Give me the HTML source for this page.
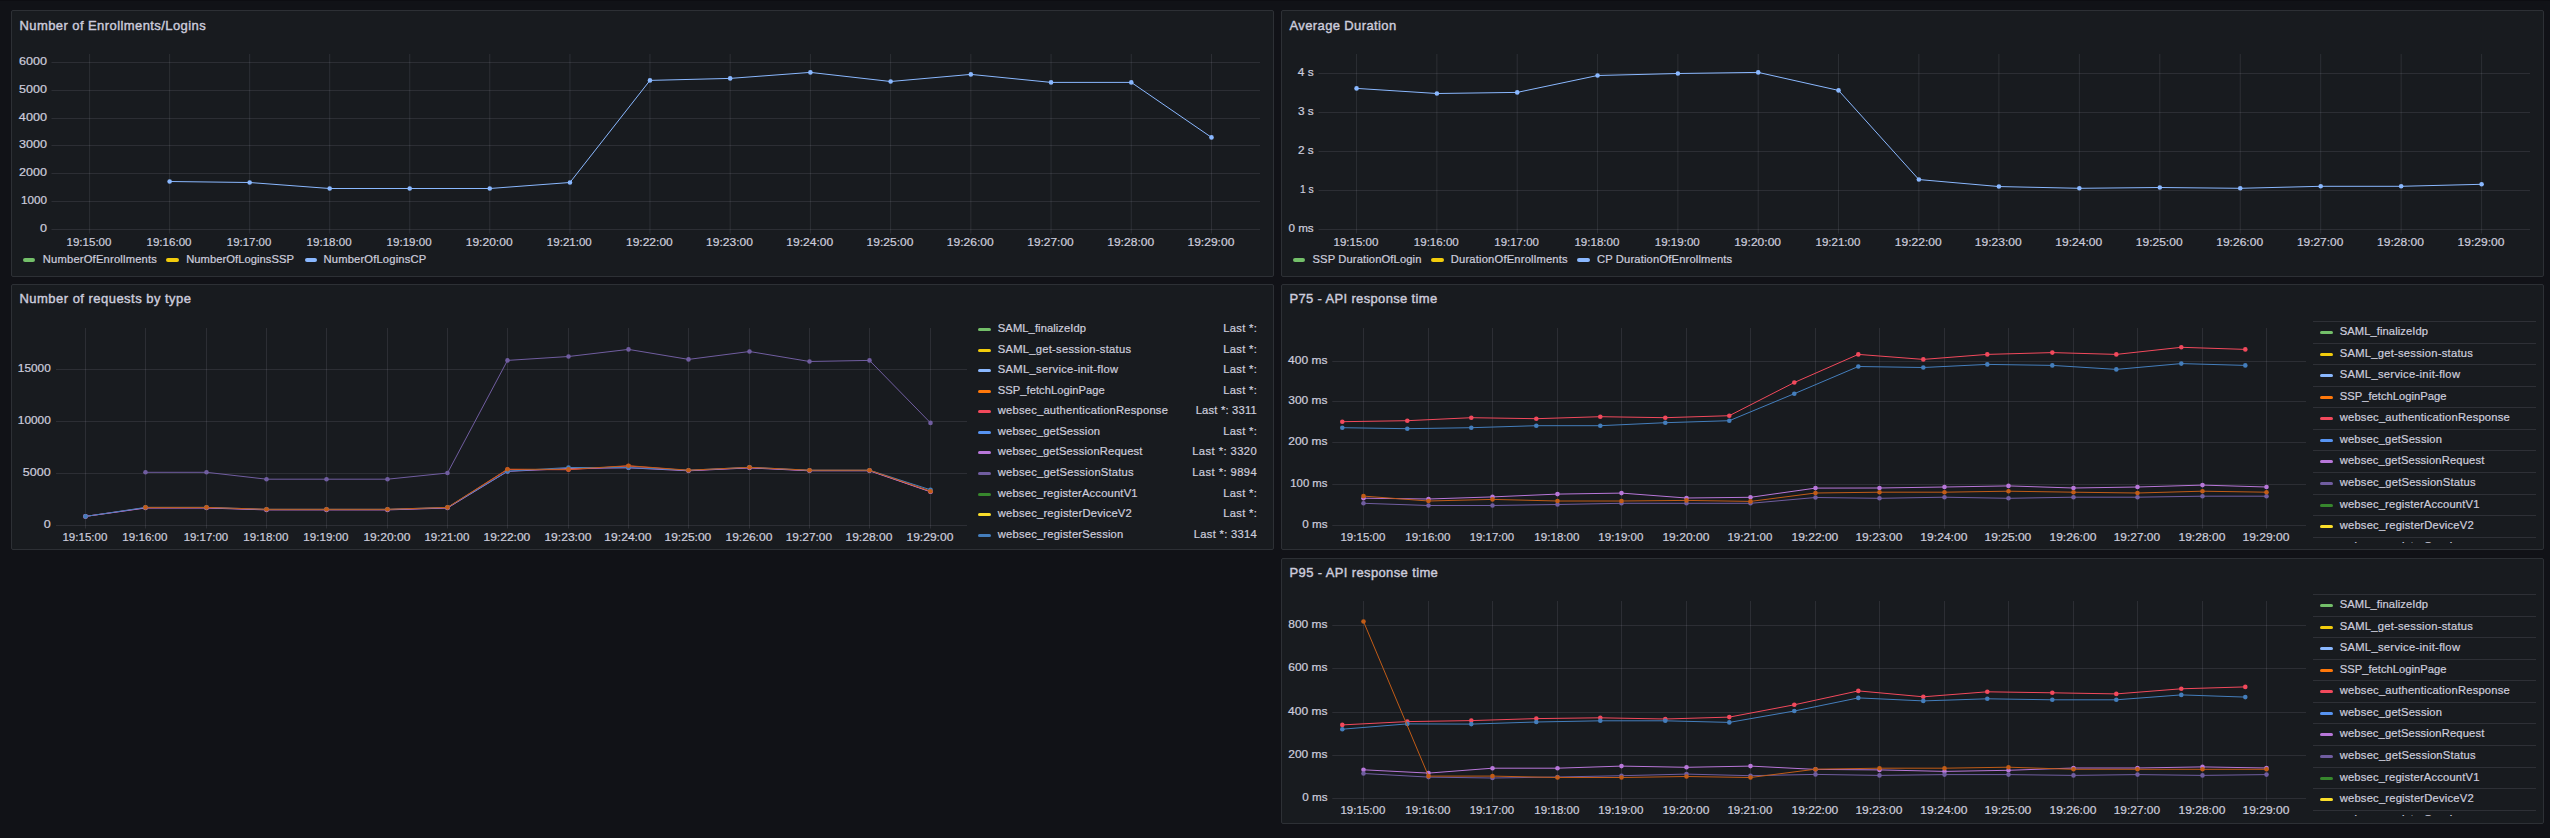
<!DOCTYPE html>
<html lang="en">
<head>
<meta charset="utf-8">
<title>Dashboard</title>
<style>
html,body{margin:0;padding:0;background:#111217;}
body{width:2550px;height:838px;position:relative;overflow:hidden;font-family:"Liberation Sans", sans-serif;color:#ccccdc;}
.panel{position:absolute;box-sizing:border-box;background:#181b1f;border:1px solid #2d3035;border-radius:2px;}
h2{position:absolute;margin:0;font-size:13.0px;font-weight:normal;line-height:16px;white-space:nowrap;color:#ccccdc;-webkit-text-stroke:0.4px #ccccdc;}
svg{position:absolute;left:0;top:0;font-family:"Liberation Sans", sans-serif;}
.sw{position:absolute;width:12.6px;height:3.8px;border-radius:2px;}
.lt{position:absolute;font-size:11.2px;line-height:14px;white-space:pre;color:#ccccdc;-webkit-text-stroke:0.22px #ccccdc;}
.tl{position:absolute;overflow:hidden;}
.row{position:absolute;left:0;width:100%;height:21.63px;box-sizing:border-box;border-top:1px solid rgba(204,204,220,0.12);}
</style>
</head>
<body>
<div style="position:absolute;left:0;top:0;width:2550px;height:1px;background:#0d0d12"></div>
<div class="panel" style="left:11px;top:10px;width:1263px;height:267px"></div>
<div class="panel" style="left:1281px;top:10px;width:1263px;height:267px"></div>
<div class="panel" style="left:11px;top:284px;width:1263px;height:266px"></div>
<div class="panel" style="left:1281px;top:284px;width:1263px;height:266px"></div>
<div class="panel" style="left:1281px;top:558px;width:1263px;height:266px"></div>
<svg width="2550" height="838" viewBox="0 0 2550 838">
<!-- panel 1 -->
<g stroke="rgba(204,204,220,0.115)" stroke-width="1">
<line x1="89.6" y1="54" x2="89.6" y2="233.5"/>
<line x1="169.63" y1="54" x2="169.63" y2="233.5"/>
<line x1="249.66" y1="54" x2="249.66" y2="233.5"/>
<line x1="329.69" y1="54" x2="329.69" y2="233.5"/>
<line x1="409.72" y1="54" x2="409.72" y2="233.5"/>
<line x1="489.76" y1="54" x2="489.76" y2="233.5"/>
<line x1="569.95" y1="54" x2="569.95" y2="233.5"/>
<line x1="649.96" y1="54" x2="649.96" y2="233.5"/>
<line x1="730.18" y1="54" x2="730.18" y2="233.5"/>
<line x1="810.4" y1="54" x2="810.4" y2="233.5"/>
<line x1="890.62" y1="54" x2="890.62" y2="233.5"/>
<line x1="970.84" y1="54" x2="970.84" y2="233.5"/>
<line x1="1051.06" y1="54" x2="1051.06" y2="233.5"/>
<line x1="1131.28" y1="54" x2="1131.28" y2="233.5"/>
<line x1="1211.5" y1="54" x2="1211.5" y2="233.5"/>
<line x1="51.5" y1="229.5" x2="1260" y2="229.5"/>
<line x1="51.5" y1="201.5" x2="1260" y2="201.5"/>
<line x1="51.5" y1="173.5" x2="1260" y2="173.5"/>
<line x1="51.5" y1="145.5" x2="1260" y2="145.5"/>
<line x1="51.5" y1="118.5" x2="1260" y2="118.5"/>
<line x1="51.5" y1="90.5" x2="1260" y2="90.5"/>
<line x1="51.5" y1="62.5" x2="1260" y2="62.5"/>
</g>
<g fill="#ccccdc" stroke="#ccccdc" stroke-width="0.22" font-size="11.2" text-anchor="end">
<text x="47" y="232" textLength="7" lengthAdjust="spacingAndGlyphs">0</text>
<text x="47" y="204" textLength="26" lengthAdjust="spacingAndGlyphs">1000</text>
<text x="47" y="176" textLength="27.91" lengthAdjust="spacingAndGlyphs">2000</text>
<text x="47" y="148" textLength="27.99" lengthAdjust="spacingAndGlyphs">3000</text>
<text x="47" y="121" textLength="28.12" lengthAdjust="spacingAndGlyphs">4000</text>
<text x="47" y="93" textLength="27.91" lengthAdjust="spacingAndGlyphs">5000</text>
<text x="47" y="65" textLength="28.02" lengthAdjust="spacingAndGlyphs">6000</text>
</g>
<g fill="#ccccdc" stroke="#ccccdc" stroke-width="0.22" font-size="11.2" text-anchor="middle">
<text x="89" y="246" textLength="44.93" lengthAdjust="spacingAndGlyphs">19:15:00</text>
<text x="169.03" y="246" textLength="45.04" lengthAdjust="spacingAndGlyphs">19:16:00</text>
<text x="249.06" y="246" textLength="44.5" lengthAdjust="spacingAndGlyphs">19:17:00</text>
<text x="329.09" y="246" textLength="45.04" lengthAdjust="spacingAndGlyphs">19:18:00</text>
<text x="409.12" y="246" textLength="45.04" lengthAdjust="spacingAndGlyphs">19:19:00</text>
<text x="489.16" y="246" textLength="46.93" lengthAdjust="spacingAndGlyphs">19:20:00</text>
<text x="569.35" y="246" textLength="44.93" lengthAdjust="spacingAndGlyphs">19:21:00</text>
<text x="649.36" y="246" textLength="46.84" lengthAdjust="spacingAndGlyphs">19:22:00</text>
<text x="729.58" y="246" textLength="46.93" lengthAdjust="spacingAndGlyphs">19:23:00</text>
<text x="809.8" y="246" textLength="47.06" lengthAdjust="spacingAndGlyphs">19:24:00</text>
<text x="890.02" y="246" textLength="46.84" lengthAdjust="spacingAndGlyphs">19:25:00</text>
<text x="970.24" y="246" textLength="46.95" lengthAdjust="spacingAndGlyphs">19:26:00</text>
<text x="1050.46" y="246" textLength="46.41" lengthAdjust="spacingAndGlyphs">19:27:00</text>
<text x="1130.68" y="246" textLength="46.95" lengthAdjust="spacingAndGlyphs">19:28:00</text>
<text x="1210.9" y="246" textLength="46.95" lengthAdjust="spacingAndGlyphs">19:29:00</text>
</g>
<path d="M169.63 181.5 L249.66 182.5 L329.69 188.5 L409.72 188.5 L489.76 188.5 L569.95 182.5 L649.96 80.4 L730.18 78.4 L810.4 72.4 L890.62 81.5 L970.84 74.4 L1051.06 82.4 L1131.28 82.4 L1211.5 137.4" fill="none" stroke="#8AB8FF" stroke-width="1.0" stroke-linejoin="round"/>
<g fill="#8AB8FF"><circle cx="169.63" cy="181.5" r="2.3"/><circle cx="249.66" cy="182.5" r="2.3"/><circle cx="329.69" cy="188.5" r="2.3"/><circle cx="409.72" cy="188.5" r="2.3"/><circle cx="489.76" cy="188.5" r="2.3"/><circle cx="569.95" cy="182.5" r="2.3"/><circle cx="649.96" cy="80.4" r="2.3"/><circle cx="730.18" cy="78.4" r="2.3"/><circle cx="810.4" cy="72.4" r="2.3"/><circle cx="890.62" cy="81.5" r="2.3"/><circle cx="970.84" cy="74.4" r="2.3"/><circle cx="1051.06" cy="82.4" r="2.3"/><circle cx="1131.28" cy="82.4" r="2.3"/><circle cx="1211.5" cy="137.4" r="2.3"/></g>
<!-- panel 2 -->
<g stroke="rgba(204,204,220,0.115)" stroke-width="1">
<line x1="1356.56" y1="54" x2="1356.56" y2="233.5"/>
<line x1="1436.89" y1="54" x2="1436.89" y2="233.5"/>
<line x1="1517.22" y1="54" x2="1517.22" y2="233.5"/>
<line x1="1597.55" y1="54" x2="1597.55" y2="233.5"/>
<line x1="1677.88" y1="54" x2="1677.88" y2="233.5"/>
<line x1="1758.21" y1="54" x2="1758.21" y2="233.5"/>
<line x1="1838.54" y1="54" x2="1838.54" y2="233.5"/>
<line x1="1918.87" y1="54" x2="1918.87" y2="233.5"/>
<line x1="1998.9" y1="54" x2="1998.9" y2="233.5"/>
<line x1="2079.35" y1="54" x2="2079.35" y2="233.5"/>
<line x1="2159.8" y1="54" x2="2159.8" y2="233.5"/>
<line x1="2240.25" y1="54" x2="2240.25" y2="233.5"/>
<line x1="2320.7" y1="54" x2="2320.7" y2="233.5"/>
<line x1="2401.15" y1="54" x2="2401.15" y2="233.5"/>
<line x1="2481.6" y1="54" x2="2481.6" y2="233.5"/>
<line x1="1318.5" y1="229.5" x2="2530" y2="229.5"/>
<line x1="1318.5" y1="190.5" x2="2530" y2="190.5"/>
<line x1="1318.5" y1="151.5" x2="2530" y2="151.5"/>
<line x1="1318.5" y1="112.5" x2="2530" y2="112.5"/>
<line x1="1318.5" y1="73.5" x2="2530" y2="73.5"/>
</g>
<g fill="#ccccdc" stroke="#ccccdc" stroke-width="0.22" font-size="11.2" text-anchor="end">
<text x="1313.7" y="232" textLength="25.24" lengthAdjust="spacingAndGlyphs">0 ms</text>
<text x="1313.7" y="193" textLength="13.78" lengthAdjust="spacingAndGlyphs">1 s</text>
<text x="1313.7" y="154" textLength="15.69" lengthAdjust="spacingAndGlyphs">2 s</text>
<text x="1313.7" y="115" textLength="15.78" lengthAdjust="spacingAndGlyphs">3 s</text>
<text x="1313.7" y="76" textLength="15.91" lengthAdjust="spacingAndGlyphs">4 s</text>
</g>
<g fill="#ccccdc" stroke="#ccccdc" stroke-width="0.22" font-size="11.2" text-anchor="middle">
<text x="1355.96" y="246" textLength="44.93" lengthAdjust="spacingAndGlyphs">19:15:00</text>
<text x="1436.29" y="246" textLength="45.04" lengthAdjust="spacingAndGlyphs">19:16:00</text>
<text x="1516.62" y="246" textLength="44.5" lengthAdjust="spacingAndGlyphs">19:17:00</text>
<text x="1596.95" y="246" textLength="45.04" lengthAdjust="spacingAndGlyphs">19:18:00</text>
<text x="1677.28" y="246" textLength="45.04" lengthAdjust="spacingAndGlyphs">19:19:00</text>
<text x="1757.61" y="246" textLength="46.93" lengthAdjust="spacingAndGlyphs">19:20:00</text>
<text x="1837.94" y="246" textLength="44.93" lengthAdjust="spacingAndGlyphs">19:21:00</text>
<text x="1918.27" y="246" textLength="46.84" lengthAdjust="spacingAndGlyphs">19:22:00</text>
<text x="1998.3" y="246" textLength="46.93" lengthAdjust="spacingAndGlyphs">19:23:00</text>
<text x="2078.75" y="246" textLength="47.06" lengthAdjust="spacingAndGlyphs">19:24:00</text>
<text x="2159.2" y="246" textLength="46.84" lengthAdjust="spacingAndGlyphs">19:25:00</text>
<text x="2239.65" y="246" textLength="46.95" lengthAdjust="spacingAndGlyphs">19:26:00</text>
<text x="2320.1" y="246" textLength="46.41" lengthAdjust="spacingAndGlyphs">19:27:00</text>
<text x="2400.55" y="246" textLength="46.95" lengthAdjust="spacingAndGlyphs">19:28:00</text>
<text x="2481" y="246" textLength="46.95" lengthAdjust="spacingAndGlyphs">19:29:00</text>
</g>
<path d="M1356.56 88.4 L1436.89 93.5 L1517.22 92.4 L1597.55 75.5 L1677.88 73.5 L1758.21 72.4 L1838.54 90.4 L1918.87 179.55 L1998.9 186.55 L2079.35 188.3 L2159.8 187.5 L2240.25 188.3 L2320.7 186.3 L2401.15 186.3 L2481.6 184.3" fill="none" stroke="#8AB8FF" stroke-width="1.0" stroke-linejoin="round"/>
<g fill="#8AB8FF"><circle cx="1356.56" cy="88.4" r="2.3"/><circle cx="1436.89" cy="93.5" r="2.3"/><circle cx="1517.22" cy="92.4" r="2.3"/><circle cx="1597.55" cy="75.5" r="2.3"/><circle cx="1677.88" cy="73.5" r="2.3"/><circle cx="1758.21" cy="72.4" r="2.3"/><circle cx="1838.54" cy="90.4" r="2.3"/><circle cx="1918.87" cy="179.55" r="2.3"/><circle cx="1998.9" cy="186.55" r="2.3"/><circle cx="2079.35" cy="188.3" r="2.3"/><circle cx="2159.8" cy="187.5" r="2.3"/><circle cx="2240.25" cy="188.3" r="2.3"/><circle cx="2320.7" cy="186.3" r="2.3"/><circle cx="2401.15" cy="186.3" r="2.3"/><circle cx="2481.6" cy="184.3" r="2.3"/></g>
<!-- panel 3 -->
<g stroke="rgba(204,204,220,0.115)" stroke-width="1">
<line x1="85.5" y1="328" x2="85.5" y2="528.5"/>
<line x1="145.5" y1="328" x2="145.5" y2="528.5"/>
<line x1="206.5" y1="328" x2="206.5" y2="528.5"/>
<line x1="266.5" y1="328" x2="266.5" y2="528.5"/>
<line x1="326.5" y1="328" x2="326.5" y2="528.5"/>
<line x1="387.5" y1="328" x2="387.5" y2="528.5"/>
<line x1="447.5" y1="328" x2="447.5" y2="528.5"/>
<line x1="507.5" y1="328" x2="507.5" y2="528.5"/>
<line x1="568.5" y1="328" x2="568.5" y2="528.5"/>
<line x1="628.5" y1="328" x2="628.5" y2="528.5"/>
<line x1="688.5" y1="328" x2="688.5" y2="528.5"/>
<line x1="749.5" y1="328" x2="749.5" y2="528.5"/>
<line x1="809.5" y1="328" x2="809.5" y2="528.5"/>
<line x1="869.5" y1="328" x2="869.5" y2="528.5"/>
<line x1="930.5" y1="328" x2="930.5" y2="528.5"/>
<line x1="56" y1="525.5" x2="967" y2="525.5"/>
<line x1="56" y1="473.5" x2="967" y2="473.5"/>
<line x1="56" y1="421.5" x2="967" y2="421.5"/>
<line x1="56" y1="369.5" x2="967" y2="369.5"/>
</g>
<g fill="#ccccdc" stroke="#ccccdc" stroke-width="0.22" font-size="11.2" text-anchor="end">
<text x="50.8" y="528" textLength="7" lengthAdjust="spacingAndGlyphs">0</text>
<text x="50.8" y="476" textLength="27.91" lengthAdjust="spacingAndGlyphs">5000</text>
<text x="50.8" y="424" textLength="32.99" lengthAdjust="spacingAndGlyphs">10000</text>
<text x="50.8" y="372" textLength="32.91" lengthAdjust="spacingAndGlyphs">15000</text>
</g>
<g fill="#ccccdc" stroke="#ccccdc" stroke-width="0.22" font-size="11.2" text-anchor="middle">
<text x="84.9" y="541" textLength="44.93" lengthAdjust="spacingAndGlyphs">19:15:00</text>
<text x="144.9" y="541" textLength="45.04" lengthAdjust="spacingAndGlyphs">19:16:00</text>
<text x="205.9" y="541" textLength="44.5" lengthAdjust="spacingAndGlyphs">19:17:00</text>
<text x="265.9" y="541" textLength="45.04" lengthAdjust="spacingAndGlyphs">19:18:00</text>
<text x="325.9" y="541" textLength="45.04" lengthAdjust="spacingAndGlyphs">19:19:00</text>
<text x="386.9" y="541" textLength="46.93" lengthAdjust="spacingAndGlyphs">19:20:00</text>
<text x="446.9" y="541" textLength="44.93" lengthAdjust="spacingAndGlyphs">19:21:00</text>
<text x="506.9" y="541" textLength="46.84" lengthAdjust="spacingAndGlyphs">19:22:00</text>
<text x="567.9" y="541" textLength="46.93" lengthAdjust="spacingAndGlyphs">19:23:00</text>
<text x="627.9" y="541" textLength="47.06" lengthAdjust="spacingAndGlyphs">19:24:00</text>
<text x="687.9" y="541" textLength="46.84" lengthAdjust="spacingAndGlyphs">19:25:00</text>
<text x="748.9" y="541" textLength="46.95" lengthAdjust="spacingAndGlyphs">19:26:00</text>
<text x="808.9" y="541" textLength="46.41" lengthAdjust="spacingAndGlyphs">19:27:00</text>
<text x="868.9" y="541" textLength="46.95" lengthAdjust="spacingAndGlyphs">19:28:00</text>
<text x="929.9" y="541" textLength="46.95" lengthAdjust="spacingAndGlyphs">19:29:00</text>
</g>
<path d="M85.5 516.4 L145.5 507.7 L206.5 507.7 L266.5 509.6 L326.5 509.6 L387.5 509.6 L447.5 507.7 L507.5 469.5 L568.5 469.7 L628.5 466 L688.5 470.5 L749.5 467.6 L809.5 470.5 L869.5 470.5 L930.5 491.5" fill="none" stroke="#F2495C" stroke-width="1.0" stroke-linejoin="round"/>
<g fill="#F2495C"><circle cx="85.5" cy="516.4" r="2.3"/><circle cx="145.5" cy="507.7" r="2.3"/><circle cx="206.5" cy="507.7" r="2.3"/><circle cx="266.5" cy="509.6" r="2.3"/><circle cx="326.5" cy="509.6" r="2.3"/><circle cx="387.5" cy="509.6" r="2.3"/><circle cx="447.5" cy="507.7" r="2.3"/><circle cx="507.5" cy="469.5" r="2.3"/><circle cx="568.5" cy="469.7" r="2.3"/><circle cx="628.5" cy="466" r="2.3"/><circle cx="688.5" cy="470.5" r="2.3"/><circle cx="749.5" cy="467.6" r="2.3"/><circle cx="809.5" cy="470.5" r="2.3"/><circle cx="869.5" cy="470.5" r="2.3"/><circle cx="930.5" cy="491.5" r="2.3"/></g>
<path d="M85.5 516.4 L145.5 508 L206.5 508 L266.5 509.9 L326.5 509.9 L387.5 509.9 L447.5 508 L507.5 471.4 L568.5 468.5 L628.5 467.8 L688.5 470.8 L749.5 467.9 L809.5 470.8 L869.5 470.8 L930.5 491.8" fill="none" stroke="#B877D9" stroke-width="1.0" stroke-linejoin="round"/>
<g fill="#B877D9"><circle cx="85.5" cy="516.4" r="2.3"/><circle cx="145.5" cy="508" r="2.3"/><circle cx="206.5" cy="508" r="2.3"/><circle cx="266.5" cy="509.9" r="2.3"/><circle cx="326.5" cy="509.9" r="2.3"/><circle cx="387.5" cy="509.9" r="2.3"/><circle cx="447.5" cy="508" r="2.3"/><circle cx="507.5" cy="471.4" r="2.3"/><circle cx="568.5" cy="468.5" r="2.3"/><circle cx="628.5" cy="467.8" r="2.3"/><circle cx="688.5" cy="470.8" r="2.3"/><circle cx="749.5" cy="467.9" r="2.3"/><circle cx="809.5" cy="470.8" r="2.3"/><circle cx="869.5" cy="470.8" r="2.3"/><circle cx="930.5" cy="491.8" r="2.3"/></g>
<path d="M145.5 472.3 L206.5 472.3 L266.5 479.2 L326.5 479.2 L387.5 479.2 L447.5 473 L507.5 360.4 L568.5 356.5 L628.5 349.4 L688.5 359.4 L749.5 351.5 L809.5 361.5 L869.5 360.4 L930.5 422.9" fill="none" stroke="#705DA0" stroke-width="1.0" stroke-linejoin="round"/>
<g fill="#705DA0"><circle cx="145.5" cy="472.3" r="2.3"/><circle cx="206.5" cy="472.3" r="2.3"/><circle cx="266.5" cy="479.2" r="2.3"/><circle cx="326.5" cy="479.2" r="2.3"/><circle cx="387.5" cy="479.2" r="2.3"/><circle cx="447.5" cy="473" r="2.3"/><circle cx="507.5" cy="360.4" r="2.3"/><circle cx="568.5" cy="356.5" r="2.3"/><circle cx="628.5" cy="349.4" r="2.3"/><circle cx="688.5" cy="359.4" r="2.3"/><circle cx="749.5" cy="351.5" r="2.3"/><circle cx="809.5" cy="361.5" r="2.3"/><circle cx="869.5" cy="360.4" r="2.3"/><circle cx="930.5" cy="422.9" r="2.3"/></g>
<path d="M85.5 516.4 L145.5 507.4 L206.5 507.4 L266.5 509.3 L326.5 509.3 L387.5 509.3 L447.5 507.4 L507.5 471.2 L568.5 467.5 L628.5 467.6 L688.5 470.2 L749.5 467.3 L809.5 470.2 L869.5 470.2 L930.5 489.8" fill="none" stroke="#447EBC" stroke-width="1.0" stroke-linejoin="round"/>
<g fill="#447EBC"><circle cx="85.5" cy="516.4" r="2.3"/><circle cx="145.5" cy="507.4" r="2.3"/><circle cx="206.5" cy="507.4" r="2.3"/><circle cx="266.5" cy="509.3" r="2.3"/><circle cx="326.5" cy="509.3" r="2.3"/><circle cx="387.5" cy="509.3" r="2.3"/><circle cx="447.5" cy="507.4" r="2.3"/><circle cx="507.5" cy="471.2" r="2.3"/><circle cx="568.5" cy="467.5" r="2.3"/><circle cx="628.5" cy="467.6" r="2.3"/><circle cx="688.5" cy="470.2" r="2.3"/><circle cx="749.5" cy="467.3" r="2.3"/><circle cx="809.5" cy="470.2" r="2.3"/><circle cx="869.5" cy="470.2" r="2.3"/><circle cx="930.5" cy="489.8" r="2.3"/></g>
<path d="M145.5 507.4 L206.5 507.4 L266.5 509.3 L326.5 509.3 L387.5 509.3 L447.5 507.4 L507.5 469.2 L568.5 469.4 L628.5 465.7 L688.5 470.2 L749.5 467.3 L809.5 470.2 L869.5 470.2 L930.5 491.2" fill="none" stroke="#C15C17" stroke-width="1.0" stroke-linejoin="round"/>
<g fill="#C15C17"><circle cx="145.5" cy="507.4" r="2.3"/><circle cx="206.5" cy="507.4" r="2.3"/><circle cx="266.5" cy="509.3" r="2.3"/><circle cx="326.5" cy="509.3" r="2.3"/><circle cx="387.5" cy="509.3" r="2.3"/><circle cx="447.5" cy="507.4" r="2.3"/><circle cx="507.5" cy="469.2" r="2.3"/><circle cx="568.5" cy="469.4" r="2.3"/><circle cx="628.5" cy="465.7" r="2.3"/><circle cx="688.5" cy="470.2" r="2.3"/><circle cx="749.5" cy="467.3" r="2.3"/><circle cx="809.5" cy="470.2" r="2.3"/><circle cx="869.5" cy="470.2" r="2.3"/><circle cx="930.5" cy="491.2" r="2.3"/></g>
<!-- panel 4 -->
<g stroke="rgba(204,204,220,0.115)" stroke-width="1">
<line x1="1363.5" y1="328" x2="1363.5" y2="528.5"/>
<line x1="1428.5" y1="328" x2="1428.5" y2="528.5"/>
<line x1="1492.5" y1="328" x2="1492.5" y2="528.5"/>
<line x1="1557.5" y1="328" x2="1557.5" y2="528.5"/>
<line x1="1621.5" y1="328" x2="1621.5" y2="528.5"/>
<line x1="1686.5" y1="328" x2="1686.5" y2="528.5"/>
<line x1="1750.5" y1="328" x2="1750.5" y2="528.5"/>
<line x1="1815.5" y1="328" x2="1815.5" y2="528.5"/>
<line x1="1879.5" y1="328" x2="1879.5" y2="528.5"/>
<line x1="1944.5" y1="328" x2="1944.5" y2="528.5"/>
<line x1="2008.5" y1="328" x2="2008.5" y2="528.5"/>
<line x1="2073.5" y1="328" x2="2073.5" y2="528.5"/>
<line x1="2137.5" y1="328" x2="2137.5" y2="528.5"/>
<line x1="2202.5" y1="328" x2="2202.5" y2="528.5"/>
<line x1="2266.5" y1="328" x2="2266.5" y2="528.5"/>
<line x1="1332.3" y1="525.5" x2="2306" y2="525.5"/>
<line x1="1332.3" y1="484.5" x2="2306" y2="484.5"/>
<line x1="1332.3" y1="442.5" x2="2306" y2="442.5"/>
<line x1="1332.3" y1="401.5" x2="2306" y2="401.5"/>
<line x1="1332.3" y1="361.5" x2="2306" y2="361.5"/>
</g>
<g fill="#ccccdc" stroke="#ccccdc" stroke-width="0.22" font-size="11.2" text-anchor="end">
<text x="1327.5" y="528" textLength="25.24" lengthAdjust="spacingAndGlyphs">0 ms</text>
<text x="1327.5" y="487" textLength="37.24" lengthAdjust="spacingAndGlyphs">100 ms</text>
<text x="1327.5" y="445" textLength="39.15" lengthAdjust="spacingAndGlyphs">200 ms</text>
<text x="1327.5" y="404" textLength="39.24" lengthAdjust="spacingAndGlyphs">300 ms</text>
<text x="1327.5" y="364" textLength="39.37" lengthAdjust="spacingAndGlyphs">400 ms</text>
</g>
<g fill="#ccccdc" stroke="#ccccdc" stroke-width="0.22" font-size="11.2" text-anchor="middle">
<text x="1362.9" y="541" textLength="44.93" lengthAdjust="spacingAndGlyphs">19:15:00</text>
<text x="1427.9" y="541" textLength="45.04" lengthAdjust="spacingAndGlyphs">19:16:00</text>
<text x="1491.9" y="541" textLength="44.5" lengthAdjust="spacingAndGlyphs">19:17:00</text>
<text x="1556.9" y="541" textLength="45.04" lengthAdjust="spacingAndGlyphs">19:18:00</text>
<text x="1620.9" y="541" textLength="45.04" lengthAdjust="spacingAndGlyphs">19:19:00</text>
<text x="1685.9" y="541" textLength="46.93" lengthAdjust="spacingAndGlyphs">19:20:00</text>
<text x="1749.9" y="541" textLength="44.93" lengthAdjust="spacingAndGlyphs">19:21:00</text>
<text x="1814.9" y="541" textLength="46.84" lengthAdjust="spacingAndGlyphs">19:22:00</text>
<text x="1878.9" y="541" textLength="46.93" lengthAdjust="spacingAndGlyphs">19:23:00</text>
<text x="1943.9" y="541" textLength="47.06" lengthAdjust="spacingAndGlyphs">19:24:00</text>
<text x="2007.9" y="541" textLength="46.84" lengthAdjust="spacingAndGlyphs">19:25:00</text>
<text x="2072.9" y="541" textLength="46.95" lengthAdjust="spacingAndGlyphs">19:26:00</text>
<text x="2136.9" y="541" textLength="46.41" lengthAdjust="spacingAndGlyphs">19:27:00</text>
<text x="2201.9" y="541" textLength="46.95" lengthAdjust="spacingAndGlyphs">19:28:00</text>
<text x="2265.9" y="541" textLength="46.95" lengthAdjust="spacingAndGlyphs">19:29:00</text>
</g>
<path d="M1342.3 421.7 L1407.3 420.7 L1471.3 417.7 L1536.3 418.7 L1600.3 416.7 L1665.3 417.7 L1729.3 415.7 L1794.3 382.5 L1858.3 354.4 L1923.3 359.4 L1987.3 354.4 L2052.3 352.6 L2116.3 354.4 L2181.3 347.3 L2245.3 349.4" fill="none" stroke="#F2495C" stroke-width="1.0" stroke-linejoin="round"/>
<g fill="#F2495C"><circle cx="1342.3" cy="421.7" r="2.3"/><circle cx="1407.3" cy="420.7" r="2.3"/><circle cx="1471.3" cy="417.7" r="2.3"/><circle cx="1536.3" cy="418.7" r="2.3"/><circle cx="1600.3" cy="416.7" r="2.3"/><circle cx="1665.3" cy="417.7" r="2.3"/><circle cx="1729.3" cy="415.7" r="2.3"/><circle cx="1794.3" cy="382.5" r="2.3"/><circle cx="1858.3" cy="354.4" r="2.3"/><circle cx="1923.3" cy="359.4" r="2.3"/><circle cx="1987.3" cy="354.4" r="2.3"/><circle cx="2052.3" cy="352.6" r="2.3"/><circle cx="2116.3" cy="354.4" r="2.3"/><circle cx="2181.3" cy="347.3" r="2.3"/><circle cx="2245.3" cy="349.4" r="2.3"/></g>
<path d="M1363.5 498.2 L1428.5 499 L1492.5 496.9 L1557.5 494.1 L1621.5 493.1 L1686.5 498 L1750.5 497.3 L1815.5 488.1 L1879.5 488 L1944.5 487 L2008.5 485.9 L2073.5 488 L2137.5 487 L2202.5 485.1 L2266.5 487" fill="none" stroke="#B877D9" stroke-width="1.0" stroke-linejoin="round"/>
<g fill="#B877D9"><circle cx="1363.5" cy="498.2" r="2.3"/><circle cx="1428.5" cy="499" r="2.3"/><circle cx="1492.5" cy="496.9" r="2.3"/><circle cx="1557.5" cy="494.1" r="2.3"/><circle cx="1621.5" cy="493.1" r="2.3"/><circle cx="1686.5" cy="498" r="2.3"/><circle cx="1750.5" cy="497.3" r="2.3"/><circle cx="1815.5" cy="488.1" r="2.3"/><circle cx="1879.5" cy="488" r="2.3"/><circle cx="1944.5" cy="487" r="2.3"/><circle cx="2008.5" cy="485.9" r="2.3"/><circle cx="2073.5" cy="488" r="2.3"/><circle cx="2137.5" cy="487" r="2.3"/><circle cx="2202.5" cy="485.1" r="2.3"/><circle cx="2266.5" cy="487" r="2.3"/></g>
<path d="M1363.5 503.3 L1428.5 505.5 L1492.5 505.5 L1557.5 504.5 L1621.5 503.3 L1686.5 503.3 L1750.5 503.3 L1815.5 497.5 L1879.5 498.3 L1944.5 497.2 L2008.5 498.3 L2073.5 497.2 L2137.5 497.2 L2202.5 496.2 L2266.5 496.2" fill="none" stroke="#705DA0" stroke-width="1.0" stroke-linejoin="round"/>
<g fill="#705DA0"><circle cx="1363.5" cy="503.3" r="2.3"/><circle cx="1428.5" cy="505.5" r="2.3"/><circle cx="1492.5" cy="505.5" r="2.3"/><circle cx="1557.5" cy="504.5" r="2.3"/><circle cx="1621.5" cy="503.3" r="2.3"/><circle cx="1686.5" cy="503.3" r="2.3"/><circle cx="1750.5" cy="503.3" r="2.3"/><circle cx="1815.5" cy="497.5" r="2.3"/><circle cx="1879.5" cy="498.3" r="2.3"/><circle cx="1944.5" cy="497.2" r="2.3"/><circle cx="2008.5" cy="498.3" r="2.3"/><circle cx="2073.5" cy="497.2" r="2.3"/><circle cx="2137.5" cy="497.2" r="2.3"/><circle cx="2202.5" cy="496.2" r="2.3"/><circle cx="2266.5" cy="496.2" r="2.3"/></g>
<path d="M1342.3 427.7 L1407.3 428.7 L1471.3 427.7 L1536.3 425.7 L1600.3 425.7 L1665.3 422.7 L1729.3 420.7 L1794.3 393.7 L1858.3 366.5 L1923.3 367.5 L1987.3 364.4 L2052.3 365.4 L2116.3 369.4 L2181.3 363.6 L2245.3 365.4" fill="none" stroke="#447EBC" stroke-width="1.0" stroke-linejoin="round"/>
<g fill="#447EBC"><circle cx="1342.3" cy="427.7" r="2.3"/><circle cx="1407.3" cy="428.7" r="2.3"/><circle cx="1471.3" cy="427.7" r="2.3"/><circle cx="1536.3" cy="425.7" r="2.3"/><circle cx="1600.3" cy="425.7" r="2.3"/><circle cx="1665.3" cy="422.7" r="2.3"/><circle cx="1729.3" cy="420.7" r="2.3"/><circle cx="1794.3" cy="393.7" r="2.3"/><circle cx="1858.3" cy="366.5" r="2.3"/><circle cx="1923.3" cy="367.5" r="2.3"/><circle cx="1987.3" cy="364.4" r="2.3"/><circle cx="2052.3" cy="365.4" r="2.3"/><circle cx="2116.3" cy="369.4" r="2.3"/><circle cx="2181.3" cy="363.6" r="2.3"/><circle cx="2245.3" cy="365.4" r="2.3"/></g>
<path d="M1363.5 496.1 L1428.5 501 L1492.5 499.4 L1557.5 501 L1621.5 501 L1686.5 500.4 L1750.5 501.4 L1815.5 493 L1879.5 492.2 L1944.5 492.2 L2008.5 491.2 L2073.5 492.2 L2137.5 493 L2202.5 491.2 L2266.5 492.2" fill="none" stroke="#C15C17" stroke-width="1.0" stroke-linejoin="round"/>
<g fill="#C15C17"><circle cx="1363.5" cy="496.1" r="2.3"/><circle cx="1428.5" cy="501" r="2.3"/><circle cx="1492.5" cy="499.4" r="2.3"/><circle cx="1557.5" cy="501" r="2.3"/><circle cx="1621.5" cy="501" r="2.3"/><circle cx="1686.5" cy="500.4" r="2.3"/><circle cx="1750.5" cy="501.4" r="2.3"/><circle cx="1815.5" cy="493" r="2.3"/><circle cx="1879.5" cy="492.2" r="2.3"/><circle cx="1944.5" cy="492.2" r="2.3"/><circle cx="2008.5" cy="491.2" r="2.3"/><circle cx="2073.5" cy="492.2" r="2.3"/><circle cx="2137.5" cy="493" r="2.3"/><circle cx="2202.5" cy="491.2" r="2.3"/><circle cx="2266.5" cy="492.2" r="2.3"/></g>
<!-- panel 5 -->
<g stroke="rgba(204,204,220,0.115)" stroke-width="1">
<line x1="1363.5" y1="601" x2="1363.5" y2="801.5"/>
<line x1="1428.5" y1="601" x2="1428.5" y2="801.5"/>
<line x1="1492.5" y1="601" x2="1492.5" y2="801.5"/>
<line x1="1557.5" y1="601" x2="1557.5" y2="801.5"/>
<line x1="1621.5" y1="601" x2="1621.5" y2="801.5"/>
<line x1="1686.5" y1="601" x2="1686.5" y2="801.5"/>
<line x1="1750.5" y1="601" x2="1750.5" y2="801.5"/>
<line x1="1815.5" y1="601" x2="1815.5" y2="801.5"/>
<line x1="1879.5" y1="601" x2="1879.5" y2="801.5"/>
<line x1="1944.5" y1="601" x2="1944.5" y2="801.5"/>
<line x1="2008.5" y1="601" x2="2008.5" y2="801.5"/>
<line x1="2073.5" y1="601" x2="2073.5" y2="801.5"/>
<line x1="2137.5" y1="601" x2="2137.5" y2="801.5"/>
<line x1="2202.5" y1="601" x2="2202.5" y2="801.5"/>
<line x1="2266.5" y1="601" x2="2266.5" y2="801.5"/>
<line x1="1332.3" y1="798.5" x2="2306" y2="798.5"/>
<line x1="1332.3" y1="755.5" x2="2306" y2="755.5"/>
<line x1="1332.3" y1="712.5" x2="2306" y2="712.5"/>
<line x1="1332.3" y1="668.5" x2="2306" y2="668.5"/>
<line x1="1332.3" y1="625.5" x2="2306" y2="625.5"/>
</g>
<g fill="#ccccdc" stroke="#ccccdc" stroke-width="0.22" font-size="11.2" text-anchor="end">
<text x="1327.5" y="801" textLength="25.24" lengthAdjust="spacingAndGlyphs">0 ms</text>
<text x="1327.5" y="758" textLength="39.15" lengthAdjust="spacingAndGlyphs">200 ms</text>
<text x="1327.5" y="714.5" textLength="39.37" lengthAdjust="spacingAndGlyphs">400 ms</text>
<text x="1327.5" y="671" textLength="39.26" lengthAdjust="spacingAndGlyphs">600 ms</text>
<text x="1327.5" y="628" textLength="39.26" lengthAdjust="spacingAndGlyphs">800 ms</text>
</g>
<g fill="#ccccdc" stroke="#ccccdc" stroke-width="0.22" font-size="11.2" text-anchor="middle">
<text x="1362.9" y="814" textLength="44.93" lengthAdjust="spacingAndGlyphs">19:15:00</text>
<text x="1427.9" y="814" textLength="45.04" lengthAdjust="spacingAndGlyphs">19:16:00</text>
<text x="1491.9" y="814" textLength="44.5" lengthAdjust="spacingAndGlyphs">19:17:00</text>
<text x="1556.9" y="814" textLength="45.04" lengthAdjust="spacingAndGlyphs">19:18:00</text>
<text x="1620.9" y="814" textLength="45.04" lengthAdjust="spacingAndGlyphs">19:19:00</text>
<text x="1685.9" y="814" textLength="46.93" lengthAdjust="spacingAndGlyphs">19:20:00</text>
<text x="1749.9" y="814" textLength="44.93" lengthAdjust="spacingAndGlyphs">19:21:00</text>
<text x="1814.9" y="814" textLength="46.84" lengthAdjust="spacingAndGlyphs">19:22:00</text>
<text x="1878.9" y="814" textLength="46.93" lengthAdjust="spacingAndGlyphs">19:23:00</text>
<text x="1943.9" y="814" textLength="47.06" lengthAdjust="spacingAndGlyphs">19:24:00</text>
<text x="2007.9" y="814" textLength="46.84" lengthAdjust="spacingAndGlyphs">19:25:00</text>
<text x="2072.9" y="814" textLength="46.95" lengthAdjust="spacingAndGlyphs">19:26:00</text>
<text x="2136.9" y="814" textLength="46.41" lengthAdjust="spacingAndGlyphs">19:27:00</text>
<text x="2201.9" y="814" textLength="46.95" lengthAdjust="spacingAndGlyphs">19:28:00</text>
<text x="2265.9" y="814" textLength="46.95" lengthAdjust="spacingAndGlyphs">19:29:00</text>
</g>
<path d="M1342.3 724.9 L1407.3 721.6 L1471.3 720.6 L1536.3 718.6 L1600.3 717.8 L1665.3 719 L1729.3 717.1 L1794.3 704.8 L1858.3 690.9 L1923.3 696.8 L1987.3 691.8 L2052.3 692.8 L2116.3 693.9 L2181.3 688.8 L2245.3 686.9" fill="none" stroke="#F2495C" stroke-width="1.0" stroke-linejoin="round"/>
<g fill="#F2495C"><circle cx="1342.3" cy="724.9" r="2.3"/><circle cx="1407.3" cy="721.6" r="2.3"/><circle cx="1471.3" cy="720.6" r="2.3"/><circle cx="1536.3" cy="718.6" r="2.3"/><circle cx="1600.3" cy="717.8" r="2.3"/><circle cx="1665.3" cy="719" r="2.3"/><circle cx="1729.3" cy="717.1" r="2.3"/><circle cx="1794.3" cy="704.8" r="2.3"/><circle cx="1858.3" cy="690.9" r="2.3"/><circle cx="1923.3" cy="696.8" r="2.3"/><circle cx="1987.3" cy="691.8" r="2.3"/><circle cx="2052.3" cy="692.8" r="2.3"/><circle cx="2116.3" cy="693.9" r="2.3"/><circle cx="2181.3" cy="688.8" r="2.3"/><circle cx="2245.3" cy="686.9" r="2.3"/></g>
<path d="M1363.5 769.8 L1428.5 773.1 L1492.5 768.2 L1557.5 768.2 L1621.5 766.1 L1686.5 767.3 L1750.5 766.1 L1815.5 769.4 L1879.5 769.9 L1944.5 771.4 L2008.5 770.3 L2073.5 768 L2137.5 768 L2202.5 766.9 L2266.5 768" fill="none" stroke="#B877D9" stroke-width="1.0" stroke-linejoin="round"/>
<g fill="#B877D9"><circle cx="1363.5" cy="769.8" r="2.3"/><circle cx="1428.5" cy="773.1" r="2.3"/><circle cx="1492.5" cy="768.2" r="2.3"/><circle cx="1557.5" cy="768.2" r="2.3"/><circle cx="1621.5" cy="766.1" r="2.3"/><circle cx="1686.5" cy="767.3" r="2.3"/><circle cx="1750.5" cy="766.1" r="2.3"/><circle cx="1815.5" cy="769.4" r="2.3"/><circle cx="1879.5" cy="769.9" r="2.3"/><circle cx="1944.5" cy="771.4" r="2.3"/><circle cx="2008.5" cy="770.3" r="2.3"/><circle cx="2073.5" cy="768" r="2.3"/><circle cx="2137.5" cy="768" r="2.3"/><circle cx="2202.5" cy="766.9" r="2.3"/><circle cx="2266.5" cy="768" r="2.3"/></g>
<path d="M1363.5 773.5 L1428.5 777.1 L1492.5 778 L1557.5 777 L1621.5 775.7 L1686.5 774.1 L1750.5 775.7 L1815.5 774.4 L1879.5 775.4 L1944.5 774.6 L2008.5 774.6 L2073.5 775.4 L2137.5 774.6 L2202.5 775.4 L2266.5 774.6" fill="none" stroke="#705DA0" stroke-width="1.0" stroke-linejoin="round"/>
<g fill="#705DA0"><circle cx="1363.5" cy="773.5" r="2.3"/><circle cx="1428.5" cy="777.1" r="2.3"/><circle cx="1492.5" cy="778" r="2.3"/><circle cx="1557.5" cy="777" r="2.3"/><circle cx="1621.5" cy="775.7" r="2.3"/><circle cx="1686.5" cy="774.1" r="2.3"/><circle cx="1750.5" cy="775.7" r="2.3"/><circle cx="1815.5" cy="774.4" r="2.3"/><circle cx="1879.5" cy="775.4" r="2.3"/><circle cx="1944.5" cy="774.6" r="2.3"/><circle cx="2008.5" cy="774.6" r="2.3"/><circle cx="2073.5" cy="775.4" r="2.3"/><circle cx="2137.5" cy="774.6" r="2.3"/><circle cx="2202.5" cy="775.4" r="2.3"/><circle cx="2266.5" cy="774.6" r="2.3"/></g>
<path d="M1342.3 729.2 L1407.3 723.9 L1471.3 724.1 L1536.3 722 L1600.3 720.8 L1665.3 720.8 L1729.3 722.4 L1794.3 711 L1858.3 697.9 L1923.3 700.9 L1987.3 698.8 L2052.3 699.8 L2116.3 699.8 L2181.3 694.9 L2245.3 697.1" fill="none" stroke="#447EBC" stroke-width="1.0" stroke-linejoin="round"/>
<g fill="#447EBC"><circle cx="1342.3" cy="729.2" r="2.3"/><circle cx="1407.3" cy="723.9" r="2.3"/><circle cx="1471.3" cy="724.1" r="2.3"/><circle cx="1536.3" cy="722" r="2.3"/><circle cx="1600.3" cy="720.8" r="2.3"/><circle cx="1665.3" cy="720.8" r="2.3"/><circle cx="1729.3" cy="722.4" r="2.3"/><circle cx="1794.3" cy="711" r="2.3"/><circle cx="1858.3" cy="697.9" r="2.3"/><circle cx="1923.3" cy="700.9" r="2.3"/><circle cx="1987.3" cy="698.8" r="2.3"/><circle cx="2052.3" cy="699.8" r="2.3"/><circle cx="2116.3" cy="699.8" r="2.3"/><circle cx="2181.3" cy="694.9" r="2.3"/><circle cx="2245.3" cy="697.1" r="2.3"/></g>
<path d="M1363.5 621.5 L1428.5 776.1 L1492.5 776.1 L1557.5 777.5 L1621.5 777.5 L1686.5 776.5 L1750.5 777.5 L1815.5 769.2 L1879.5 768.2 L1944.5 768.2 L2008.5 767.2 L2073.5 769.3 L2137.5 769.3 L2202.5 769.3 L2266.5 769.3" fill="none" stroke="#C15C17" stroke-width="1.0" stroke-linejoin="round"/>
<g fill="#C15C17"><circle cx="1363.5" cy="621.5" r="2.3"/><circle cx="1428.5" cy="776.1" r="2.3"/><circle cx="1492.5" cy="776.1" r="2.3"/><circle cx="1557.5" cy="777.5" r="2.3"/><circle cx="1621.5" cy="777.5" r="2.3"/><circle cx="1686.5" cy="776.5" r="2.3"/><circle cx="1750.5" cy="777.5" r="2.3"/><circle cx="1815.5" cy="769.2" r="2.3"/><circle cx="1879.5" cy="768.2" r="2.3"/><circle cx="1944.5" cy="768.2" r="2.3"/><circle cx="2008.5" cy="767.2" r="2.3"/><circle cx="2073.5" cy="769.3" r="2.3"/><circle cx="2137.5" cy="769.3" r="2.3"/><circle cx="2202.5" cy="769.3" r="2.3"/><circle cx="2266.5" cy="769.3" r="2.3"/></g>
</svg>
<h2 style="left:19.5px;top:17.6px;letter-spacing:0.42px">Number of Enrollments/Logins</h2>
<h2 style="left:1289.5px;top:17.6px;letter-spacing:0.38px">Average Duration</h2>
<h2 style="left:19.5px;top:290.6px;letter-spacing:0.47px">Number of requests by type</h2>
<h2 style="left:1289.5px;top:290.6px;letter-spacing:0.34px">P75 - API response time</h2>
<h2 style="left:1289.5px;top:564.6px;letter-spacing:0.37px">P95 - API response time</h2>
<span class="sw" style="left:22.7px;top:258px;background:#73BF69"></span>
<span class="lt" style="left:42.8px;top:251.8px;letter-spacing:0.19px">NumberOfEnrollments</span>
<span class="sw" style="left:166.4px;top:258px;background:#F2CC0C"></span>
<span class="lt" style="left:186.2px;top:251.8px;letter-spacing:0.05px">NumberOfLoginsSSP</span>
<span class="sw" style="left:304.8px;top:258px;background:#8AB8FF"></span>
<span class="lt" style="left:323.5px;top:251.8px;letter-spacing:0.17px">NumberOfLoginsCP</span>
<span class="sw" style="left:1292.8px;top:258px;background:#73BF69"></span>
<span class="lt" style="left:1312.5px;top:251.8px;letter-spacing:0.12px">SSP DurationOfLogin</span>
<span class="sw" style="left:1431px;top:258px;background:#F2CC0C"></span>
<span class="lt" style="left:1450.8px;top:251.8px;letter-spacing:0.18px">DurationOfEnrollments</span>
<span class="sw" style="left:1577.4px;top:258px;background:#8AB8FF"></span>
<span class="lt" style="left:1596.9px;top:251.8px;letter-spacing:0.16px">CP DurationOfEnrollments</span>
<span class="sw" style="left:978.3px;top:327.7px;background:#73BF69"></span>
<span class="lt" style="left:997.8px;top:321.2px;letter-spacing:0.08px">SAML_finalizeIdp</span>
<span class="lt" style="left:1223.3px;top:321.2px;letter-spacing:0.29px">Last *:</span>
<span class="sw" style="left:978.3px;top:348.7px;background:#F2CC0C"></span>
<span class="lt" style="left:997.8px;top:342.2px;letter-spacing:0.26px">SAML_get-session-status</span>
<span class="lt" style="left:1223.3px;top:342.2px;letter-spacing:0.29px">Last *:</span>
<span class="sw" style="left:978.3px;top:368.7px;background:#8AB8FF"></span>
<span class="lt" style="left:997.8px;top:362.2px;letter-spacing:0.31px">SAML_service-init-flow</span>
<span class="lt" style="left:1223.3px;top:362.2px;letter-spacing:0.29px">Last *:</span>
<span class="sw" style="left:978.3px;top:389.7px;background:#FF780A"></span>
<span class="lt" style="left:997.8px;top:383.2px;letter-spacing:0.03px">SSP_fetchLoginPage</span>
<span class="lt" style="left:1223.3px;top:383.2px;letter-spacing:0.29px">Last *:</span>
<span class="sw" style="left:978.3px;top:409.7px;background:#F2495C"></span>
<span class="lt" style="left:997.8px;top:403.2px;letter-spacing:0.21px">websec_authenticationResponse</span>
<span class="lt" style="left:1195.7px;top:403.2px;letter-spacing:0.2px">Last *: 3311</span>
<span class="sw" style="left:978.3px;top:430.7px;background:#5794F2"></span>
<span class="lt" style="left:997.8px;top:424.2px;letter-spacing:0.17px">websec_getSession</span>
<span class="lt" style="left:1223.3px;top:424.2px;letter-spacing:0.29px">Last *:</span>
<span class="sw" style="left:978.3px;top:450.7px;background:#B877D9"></span>
<span class="lt" style="left:997.8px;top:444.2px;letter-spacing:0.15px">websec_getSessionRequest</span>
<span class="lt" style="left:1192.2px;top:444.2px;letter-spacing:0.44px">Last *: 3320</span>
<span class="sw" style="left:978.3px;top:471.7px;background:#705DA0"></span>
<span class="lt" style="left:997.8px;top:465.2px;letter-spacing:0.21px">websec_getSessionStatus</span>
<span class="lt" style="left:1192.2px;top:465.2px;letter-spacing:0.44px">Last *: 9894</span>
<span class="sw" style="left:978.3px;top:492.7px;background:#37872D"></span>
<span class="lt" style="left:997.8px;top:486.2px;letter-spacing:0.18px">websec_registerAccountV1</span>
<span class="lt" style="left:1223.3px;top:486.2px;letter-spacing:0.29px">Last *:</span>
<span class="sw" style="left:978.3px;top:512.7px;background:#FADE2A"></span>
<span class="lt" style="left:997.8px;top:506.2px;letter-spacing:0.21px">websec_registerDeviceV2</span>
<span class="lt" style="left:1223.3px;top:506.2px;letter-spacing:0.29px">Last *:</span>
<span class="sw" style="left:978.3px;top:533.7px;background:#447EBC"></span>
<span class="lt" style="left:997.8px;top:527.2px;letter-spacing:0.2px">websec_registerSession</span>
<span class="lt" style="left:1193.8px;top:527.2px;letter-spacing:0.29px">Last *: 3314</span>
<div class="tl" style="left:2313.3px;top:321px;width:222.7px;height:222px">
<div class="row" style="top:0px"><span class="sw" style="left:6.8px;top:8.9px;height:3.4px;background:#73BF69"></span><span class="lt" style="left:26.4px;top:2px;letter-spacing:0.08px">SAML_finalizeIdp</span></div>
<div class="row" style="top:22px"><span class="sw" style="left:6.8px;top:8.9px;height:3.4px;background:#F2CC0C"></span><span class="lt" style="left:26.4px;top:2px;letter-spacing:0.26px">SAML_get-session-status</span></div>
<div class="row" style="top:43px"><span class="sw" style="left:6.8px;top:8.9px;height:3.4px;background:#8AB8FF"></span><span class="lt" style="left:26.4px;top:2px;letter-spacing:0.31px">SAML_service-init-flow</span></div>
<div class="row" style="top:65px"><span class="sw" style="left:6.8px;top:8.9px;height:3.4px;background:#FF780A"></span><span class="lt" style="left:26.4px;top:2px;letter-spacing:0.03px">SSP_fetchLoginPage</span></div>
<div class="row" style="top:86px"><span class="sw" style="left:6.8px;top:8.9px;height:3.4px;background:#F2495C"></span><span class="lt" style="left:26.4px;top:2px;letter-spacing:0.21px">websec_authenticationResponse</span></div>
<div class="row" style="top:108px"><span class="sw" style="left:6.8px;top:8.9px;height:3.4px;background:#5794F2"></span><span class="lt" style="left:26.4px;top:2px;letter-spacing:0.17px">websec_getSession</span></div>
<div class="row" style="top:129px"><span class="sw" style="left:6.8px;top:8.9px;height:3.4px;background:#B877D9"></span><span class="lt" style="left:26.4px;top:2px;letter-spacing:0.15px">websec_getSessionRequest</span></div>
<div class="row" style="top:151px"><span class="sw" style="left:6.8px;top:8.9px;height:3.4px;background:#705DA0"></span><span class="lt" style="left:26.4px;top:2px;letter-spacing:0.21px">websec_getSessionStatus</span></div>
<div class="row" style="top:173px"><span class="sw" style="left:6.8px;top:8.9px;height:3.4px;background:#37872D"></span><span class="lt" style="left:26.4px;top:2px;letter-spacing:0.18px">websec_registerAccountV1</span></div>
<div class="row" style="top:194px"><span class="sw" style="left:6.8px;top:8.9px;height:3.4px;background:#FADE2A"></span><span class="lt" style="left:26.4px;top:2px;letter-spacing:0.21px">websec_registerDeviceV2</span></div>
<div class="row" style="top:216px"><span class="sw" style="left:6.8px;top:8.9px;height:3.4px;background:#447EBC"></span><span class="lt" style="left:26.4px;top:1.2px;letter-spacing:0.2px">websec_registerSession</span></div>
</div>
<div class="tl" style="left:2313.3px;top:594px;width:222.7px;height:222px">
<div class="row" style="top:0px"><span class="sw" style="left:6.8px;top:8.9px;height:3.4px;background:#73BF69"></span><span class="lt" style="left:26.4px;top:2px;letter-spacing:0.08px">SAML_finalizeIdp</span></div>
<div class="row" style="top:22px"><span class="sw" style="left:6.8px;top:8.9px;height:3.4px;background:#F2CC0C"></span><span class="lt" style="left:26.4px;top:2px;letter-spacing:0.26px">SAML_get-session-status</span></div>
<div class="row" style="top:43px"><span class="sw" style="left:6.8px;top:8.9px;height:3.4px;background:#8AB8FF"></span><span class="lt" style="left:26.4px;top:2px;letter-spacing:0.31px">SAML_service-init-flow</span></div>
<div class="row" style="top:65px"><span class="sw" style="left:6.8px;top:8.9px;height:3.4px;background:#FF780A"></span><span class="lt" style="left:26.4px;top:2px;letter-spacing:0.03px">SSP_fetchLoginPage</span></div>
<div class="row" style="top:86px"><span class="sw" style="left:6.8px;top:8.9px;height:3.4px;background:#F2495C"></span><span class="lt" style="left:26.4px;top:2px;letter-spacing:0.21px">websec_authenticationResponse</span></div>
<div class="row" style="top:108px"><span class="sw" style="left:6.8px;top:8.9px;height:3.4px;background:#5794F2"></span><span class="lt" style="left:26.4px;top:2px;letter-spacing:0.17px">websec_getSession</span></div>
<div class="row" style="top:129px"><span class="sw" style="left:6.8px;top:8.9px;height:3.4px;background:#B877D9"></span><span class="lt" style="left:26.4px;top:2px;letter-spacing:0.15px">websec_getSessionRequest</span></div>
<div class="row" style="top:151px"><span class="sw" style="left:6.8px;top:8.9px;height:3.4px;background:#705DA0"></span><span class="lt" style="left:26.4px;top:2px;letter-spacing:0.21px">websec_getSessionStatus</span></div>
<div class="row" style="top:173px"><span class="sw" style="left:6.8px;top:8.9px;height:3.4px;background:#37872D"></span><span class="lt" style="left:26.4px;top:2px;letter-spacing:0.18px">websec_registerAccountV1</span></div>
<div class="row" style="top:194px"><span class="sw" style="left:6.8px;top:8.9px;height:3.4px;background:#FADE2A"></span><span class="lt" style="left:26.4px;top:2px;letter-spacing:0.21px">websec_registerDeviceV2</span></div>
<div class="row" style="top:216px"><span class="sw" style="left:6.8px;top:8.9px;height:3.4px;background:#447EBC"></span><span class="lt" style="left:26.4px;top:1.2px;letter-spacing:0.2px">websec_registerSession</span></div>
</div>
</body>
</html>
